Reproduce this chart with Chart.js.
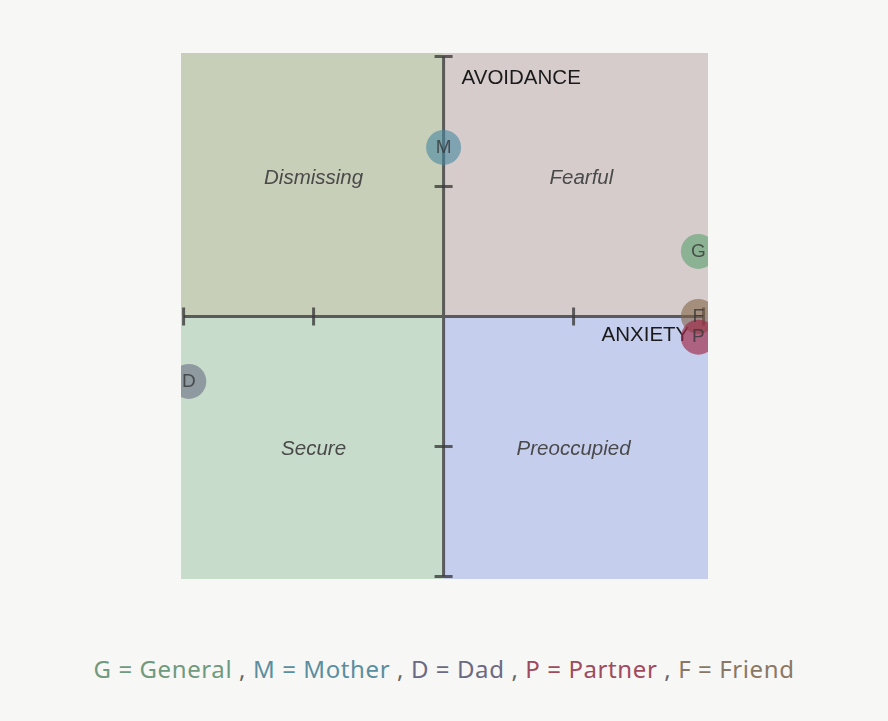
<!DOCTYPE html>
<html>
<head>
<meta charset="utf-8">
<script src="https://cdn.jsdelivr.net/npm/chart.js@4.4.0/dist/chart.umd.min.js"></script>
<style>
  html, body { margin: 0; padding: 0; background: #f7f7f5; width: 888px; height: 721px; overflow: hidden; }
  #wrap { position: absolute; left: 181px; top: 53px; width: 527px; height: 526px; }
  #legend { position: absolute; left: 0; width: 888px; top: 652px; text-align: center;
    font-family: "Noto Sans", sans-serif; font-size: 24px; letter-spacing: 0.6px; color: #777; white-space: nowrap; }
</style>
</head>
<body>
<div id="wrap"><canvas id="c" width="527" height="526"></canvas></div>
<div id="legend"></div>
<script>
// ---- data ----
const labels = ["G", "M", "D", "F", "P"];
const names = ["General", "Mother", "Dad", "Friend", "Partner"];
const anxiety = [0.98, 0.0, -0.98, 0.98, 0.98];
const avoidance = [0.25, 0.65, -0.25, 0.0, -0.08];
const pointColors = ["rgba(90,160,110,0.6)", "rgba(70,135,160,0.6)", "rgba(95,100,125,0.55)",
                     "rgba(130,100,70,0.6)", "rgba(160,40,70,0.65)"];
const legendOrder = [0, 1, 2, 4, 3];
const legendColors = ["#6f9a80", "#5a8ea0", "#6a6a86", "#8a7766", "#a04a5e"];
const quadrantNames = ["Dismissing", "Fearful", "Secure", "Preoccupied"];
const quadrantX = [-0.5, 0.53, -0.5, 0.5];
const quadrantY = [0.53, 0.53, -0.51, -0.51];
const quadrantColors = ["#c8cfb8", "#d6cccc", "#c8dccb", "#c6ceee"];
const tickValues = [-1, -0.5, 0, 0.5, 1];

// legend
document.getElementById('legend').innerHTML = legendOrder.map(i =>
  `<span style="color:${legendColors[i]}">${labels[i]} = ${names[i]}</span>`).join('<span style="color:#666"> , </span>');

const quadPlugin = {
  id: 'quad',
  beforeDatasetsDraw(chart) {
    const {ctx, chartArea: a, scales: {x, y}} = chart;
    const cx = x.getPixelForValue(0), cy = y.getPixelForValue(0);
    ctx.save();
    ctx.fillStyle = quadrantColors[0]; ctx.fillRect(a.left, a.top, cx - a.left, cy - a.top);
    ctx.fillStyle = quadrantColors[1]; ctx.fillRect(cx, a.top, a.right - cx, cy - a.top);
    ctx.fillStyle = quadrantColors[2]; ctx.fillRect(a.left, cy, cx - a.left, a.bottom - cy);
    ctx.fillStyle = quadrantColors[3]; ctx.fillRect(cx, cy, a.right - cx, a.bottom - cy);
    // quadrant names
    ctx.font = 'italic 20.5px "Liberation Sans", Arial, sans-serif';
    ctx.fillStyle = '#4a4a4a';
    ctx.textAlign = 'center'; ctx.textBaseline = 'middle';
    quadrantNames.forEach((n, i) => ctx.fillText(n, x.getPixelForValue(quadrantX[i]), y.getPixelForValue(quadrantY[i])));
    // axes
    ctx.strokeStyle = 'rgba(60,60,60,0.8)';
    ctx.lineWidth = 3;
    ctx.beginPath();
    ctx.moveTo(x.getPixelForValue(-1), cy); ctx.lineTo(x.getPixelForValue(1), cy);
    ctx.moveTo(cx, y.getPixelForValue(1)); ctx.lineTo(cx, y.getPixelForValue(-1));
    ctx.stroke();
    ctx.beginPath();
    tickValues.forEach(v => {
      if (v === 0) return;
      const px = x.getPixelForValue(v), py = y.getPixelForValue(v);
      ctx.moveTo(px, cy - 9); ctx.lineTo(px, cy + 9);
      ctx.moveTo(cx - 9, py); ctx.lineTo(cx + 9, py);
    });
    ctx.stroke();
    // axis titles
    ctx.font = '20.5px "Liberation Sans", Arial, sans-serif';
    ctx.fillStyle = '#1a1a1a';
    ctx.textAlign = 'left';
    ctx.fillText('AVOIDANCE', cx + 18, y.getPixelForValue(0.915));
    ctx.textAlign = 'right';
    ctx.fillText('ANXIETY', x.getPixelForValue(0.945), cy + 19);
    ctx.restore();
  },
  afterDatasetsDraw(chart) {
    const {ctx, chartArea: a} = chart;
    const meta = chart.getDatasetMeta(0);
    ctx.save();
    ctx.beginPath(); ctx.rect(a.left, a.top, a.right - a.left, a.bottom - a.top); ctx.clip();
    ctx.font = '19px "Liberation Sans", Arial, sans-serif';
    ctx.fillStyle = 'rgba(55,55,55,0.8)';
    ctx.textAlign = 'center'; ctx.textBaseline = 'middle';
    meta.data.forEach((pt, i) => ctx.fillText(labels[i], pt.x, pt.y));
    ctx.restore();
  }
};

new Chart(document.getElementById('c'), {
  type: 'scatter',
  data: {
    datasets: [{
      data: anxiety.map((v, i) => ({x: v, y: avoidance[i]})),
      backgroundColor: pointColors,
      borderWidth: 0,
      pointRadius: 17.5,
      pointHoverRadius: 17.5,
      clip: 0
    }]
  },
  options: {
    responsive: false,
    animation: false,
    layout: { padding: 0, autoPadding: false },
    plugins: { legend: { display: false }, tooltip: { enabled: false } },
    scales: {
      x: { type: 'linear', min: -1.01, max: 1.017, display: false },
      y: { type: 'linear', min: -1.01, max: 1.013, display: false }
    }
  },
  plugins: [quadPlugin]
});
</script>
</body>
</html>
